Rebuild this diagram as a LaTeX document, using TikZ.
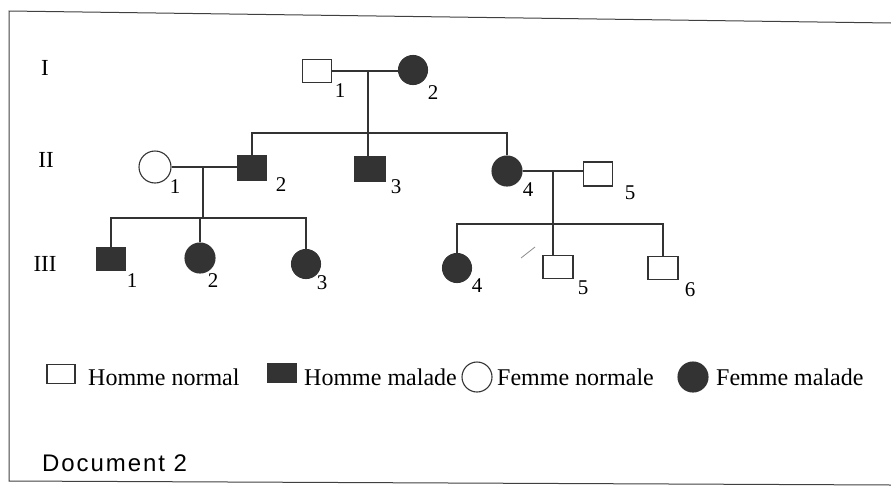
\documentclass[tikz,border=0pt]{standalone}
\usepackage{fontspec}
\setmainfont{Liberation Serif}
\newfontfamily\docfont[LetterSpace=8]{Liberation Sans}
\begin{document}
\begin{tikzpicture}[x=1pt,y=-1pt,
  ln/.style={line width=1.1pt,draw=black!80},
  sq/.style={draw=black!80,line width=1.1pt,fill=white,rectangle,minimum width=29pt,minimum height=23pt,inner sep=0pt},
  sqf/.style={sq,fill=black!80},
  ci/.style={draw=black!80,line width=1.1pt,fill=white,circle,minimum size=30pt,inner sep=0pt},
  cif/.style={ci,fill=black!80},
  num/.style={font=\fontsize{21}{21}\selectfont,inner sep=0pt},
  gen/.style={font=\fontsize{23}{23}\selectfont,inner sep=0pt},
  leg/.style={font=\fontsize{24}{24}\selectfont,inner sep=0pt,anchor=west}]
\useasboundingbox (0,0) rectangle (891,493);
% frame
\draw[line width=1pt,black!75] (891,23) -- (9,11) -- (9,481) -- (891,485);
% generation labels
\node[gen] (gI) at (45,68) {I};
\node[gen] (gII) at (46,160) {II};
\node[gen] (gIII) at (45,264) {III};
% generation I
\node[sq] (i1) at (317,71) {};
\node[cif,minimum size=29pt] (i2) at (413,70) {};
\coordinate (m1) at (368,71);
\draw[ln] (i1.east) -- (i1.east -| i2.west);
\node[num] (li1) at (340,91) {1};
\node[num] (li2) at (433,93) {2};
% generation II
\node[ci,minimum size=32pt] (ii1) at (155,167) {};
\node[sqf,minimum width=28pt,minimum height=24pt] (ii2) at (252,168) {};
\node[sqf,minimum width=30pt,minimum height=24pt] (ii3) at (370,169) {};
\node[cif] (ii4) at (507,171) {};
\node[sq,minimum height=24pt] (ii5) at (598,174) {};
\draw[ln] (m1) -- (m1 |- ii3.north);
\draw[ln] (ii2.north) |- (368,133) -| (ii4.north);
\draw[ln] (ii1.east) -- (ii1.east -| ii2.west);
\draw[ln] (ii4.east) -- (ii4.east -| ii5.west);
\node[num] (lii1) at (175,187) {1};
\node[num] (lii2) at (281,185) {2};
\node[num] (lii3) at (396,187) {3};
\node[num] (lii4) at (528,190) {4};
\node[num] (lii5) at (630,193) {5};
\coordinate (m2) at (203,167);
\coordinate (m3) at (553,171);
% generation III
\node[sqf,minimum width=28pt,minimum height=22pt] (iii1) at (111,259) {};
\node[cif] (iii2) at (200,258) {};
\node[cif,minimum size=29pt] (iii3) at (306,264) {};
\node[cif,minimum size=29pt] (iii4) at (457,268) {};
\node[sq,minimum width=30pt] (iii5) at (558,267) {};
\node[sq,minimum width=30pt] (iii6) at (663,268) {};
\draw[ln] (m2) -- (m2 |- 0,218);
\draw[ln] (iii1.north) |- (203,218) -| (iii3.north);
\draw[ln] (iii2.north) -- (iii2.north |- 0,218);
\draw[ln] (m3) -- (m3 |- iii5.north);
\draw[ln] (iii4.north) |- (553,224) -| (iii6.north);
\node[num] (liii1) at (132,281) {1};
\node[num] (liii2) at (213,281) {2};
\node[num] (liii3) at (322,283) {3};
\node[num] (liii4) at (477,286) {4};
\node[num] (liii5) at (583,288) {5};
\node[num] (liii6) at (690,290) {6};
\draw[line width=0.8pt,black!45] (521,258) -- (535,247);
% legend
\node[sq,minimum width=28pt,minimum height=19pt] (k1) at (61,374) {};
\node[leg] (t1) at (88,377) {Homme normal};
\node[sqf,minimum width=29pt,minimum height=18pt] (k2) at (282,373) {};
\node[leg] (t2) at (304,377) {Homme malade};
\node[ci,minimum size=30pt] (k3) at (477,377) {};
\node[leg] (t3) at (497,377) {Femme normale};
\node[cif,minimum size=30pt] (k4) at (693,377) {};
\node[leg] (t4) at (716,377) {Femme malade};
% caption
\node[inner sep=0pt,anchor=west,font=\docfont\fontsize{24}{24}\selectfont] (doc) at (42,463) {Document 2};
\end{tikzpicture}
\end{document}
